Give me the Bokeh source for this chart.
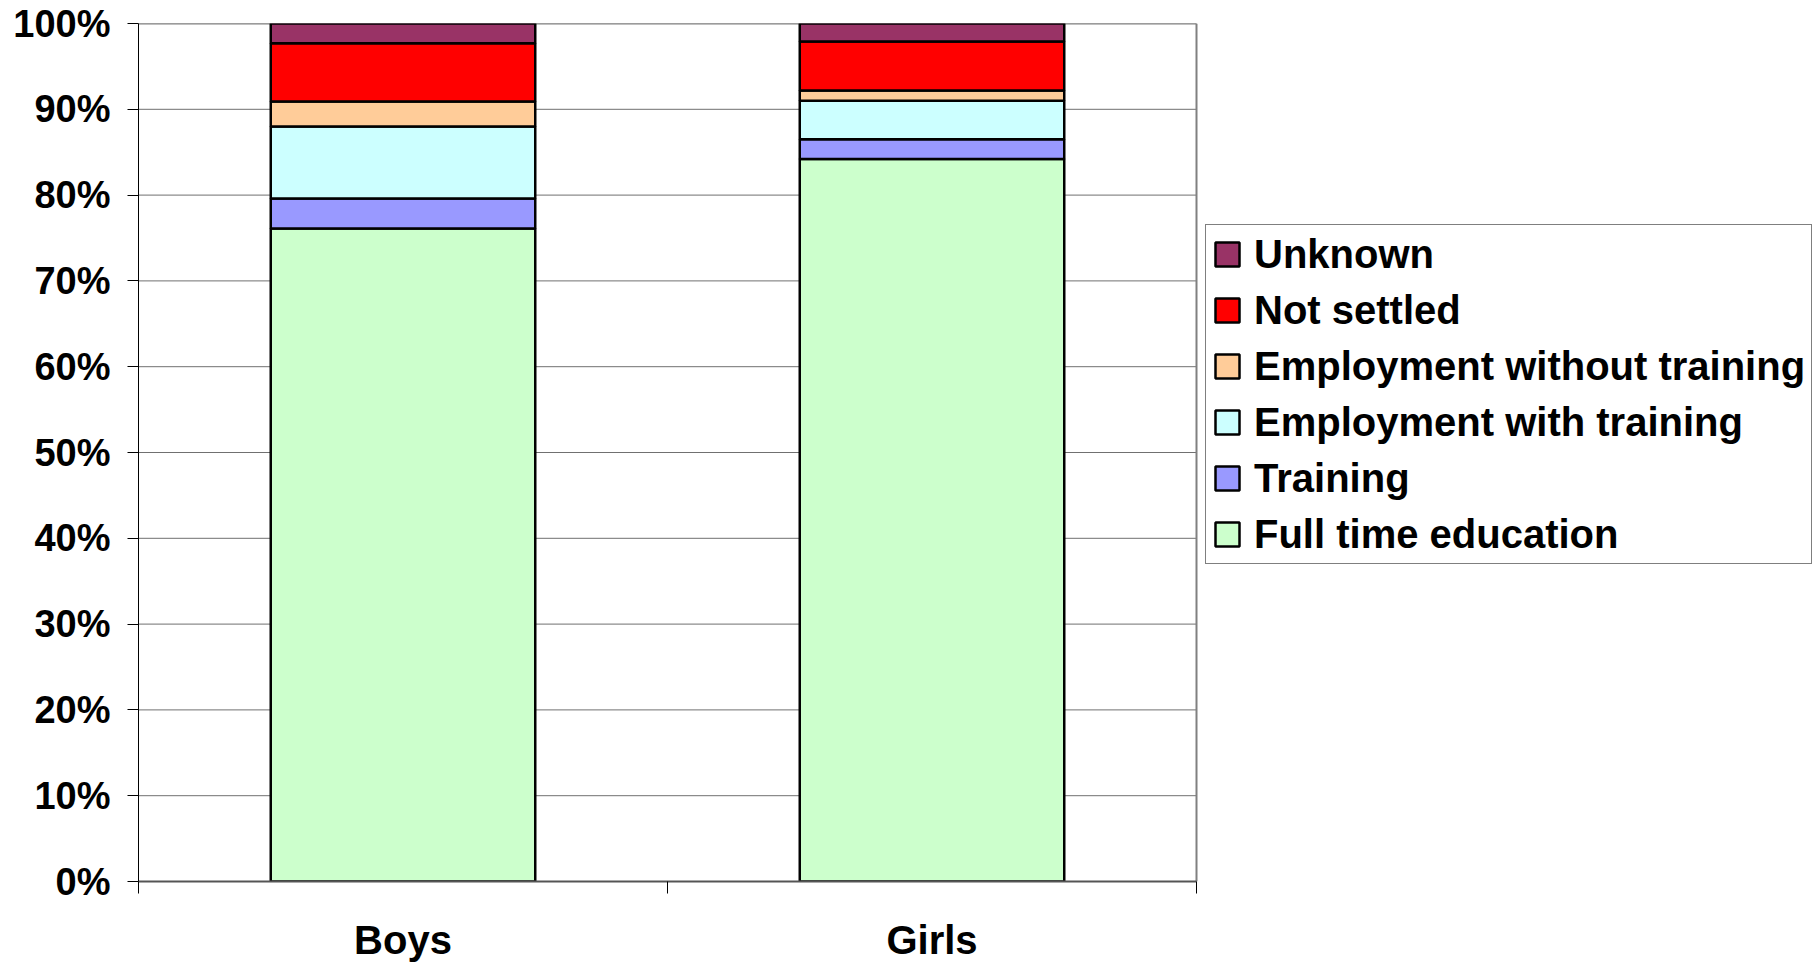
from bokeh.plotting import figure
from bokeh.models import ColumnDataSource, FixedTicker, Legend, LegendItem, Range1d, LinearAxis
from bokeh.embed import file_html
from bokeh.resources import INLINE

# ---- data ----
categories = ["Boys", "Girls"]
series_names = ["Full time education", "Training", "Employment with training",
                "Employment without training", "Not settled", "Unknown"]
full_time = [76.1, 84.2]
training = [3.5, 2.3]
emp_with = [8.4, 4.5]
emp_without = [2.9, 1.2]
not_settled = [6.8, 5.7]
unknown = [2.3, 2.1]
y_ticks = [0, 10, 20, 30, 40, 50, 60, 70, 80, 90, 100]
y_tick_labels = ["0%", "10%", "20%", "30%", "40%", "50%", "60%", "70%", "80%", "90%", "100%"]
colors = ["#CCFFCC", "#9999FF", "#CCFFFF", "#FFCC99", "#FF0000", "#993366"]

FONT = "Liberation Sans"

# layout (pixels)
W, H = 1812, 964
PLOT_LEFT, PLOT_RIGHT, PLOT_TOP, PLOT_BOTTOM = 138, 1196, 23, 881

n = len(categories)
xpos = [i + 0.5 for i in range(n)]
keys = ["s0", "s1", "s2", "s3", "s4", "s5"]
source = ColumnDataSource(data=dict(
    x=xpos,
    s0=full_time, s1=training, s2=emp_with, s3=emp_without, s4=not_settled, s5=unknown,
))

# the frame runs to the right edge so that the legend (drawn in the frame) is not clipped;
# the chart's own area (0..n) keeps its pixel width
x_end = n * (W - PLOT_LEFT) / (PLOT_RIGHT - PLOT_LEFT)
p = figure(width=W, height=H, output_backend="svg", toolbar_location=None,
           x_range=Range1d(0, x_end), y_range=Range1d(0, 100),
           x_axis_location=None, y_axis_location=None,
           min_border_left=PLOT_LEFT, min_border_right=0,
           min_border_top=PLOT_TOP, min_border_bottom=H - PLOT_BOTTOM)
p.background_fill_color = "white"
p.border_fill_color = "white"
p.outline_line_color = None
p.xgrid.visible = False
p.ygrid.visible = False

# horizontal gridlines over the chart area only
grid = p.segment(x0=[0] * len(y_ticks), x1=[n] * len(y_ticks), y0=y_ticks, y1=y_ticks,
                 line_color="#707070", line_width=1)
grid.level = "underlay"
top_border = p.segment(x0=[0], x1=[n], y0=[100], y1=[100], line_color="#808080", line_width=2)
top_border.level = "underlay"
right_border = p.segment(x0=[n], x1=[n], y0=[0], y1=[100], line_color="#808080", line_width=2)
right_border.level = "underlay"

renderers = p.vbar_stack(keys, x="x", width=0.5, source=source, fill_color=colors,
                         line_color="black", line_width=2.5)

# y axis
yaxis = LinearAxis(ticker=FixedTicker(ticks=y_ticks, minor_ticks=[]))
yaxis.major_label_overrides = {t: l for t, l in zip(y_ticks, y_tick_labels)}
yaxis.major_label_text_font = FONT
yaxis.major_label_text_font_style = "bold"
yaxis.major_label_text_font_size = "38px"
yaxis.major_label_text_color = "black"
yaxis.major_tick_out = 11
yaxis.major_tick_in = 0
yaxis.major_tick_line_color = "black"
yaxis.axis_line_color = "black"
yaxis.axis_line_width = 1
yaxis.major_label_standoff = 17
p.add_layout(yaxis, "left")

# x axis: labels at category centres, ticks at category boundaries
xaxis = LinearAxis(ticker=FixedTicker(ticks=xpos, minor_ticks=list(range(n + 1))), bounds=(0, n))
xaxis.major_label_overrides = {x: c for x, c in zip(xpos, categories)}
xaxis.major_label_text_font = FONT
xaxis.major_label_text_font_style = "bold"
xaxis.major_label_text_font_size = "40px"
xaxis.major_label_text_color = "black"
xaxis.major_tick_out = 0
xaxis.major_tick_in = 0
xaxis.minor_tick_out = 12
xaxis.minor_tick_in = 0
xaxis.minor_tick_line_color = "black"
xaxis.minor_tick_line_width = 1
xaxis.axis_line_color = "#555555"
xaxis.axis_line_width = 2
xaxis.major_label_standoff = 24
p.add_layout(xaxis, "below")

items = [LegendItem(label=name, renderers=[r]) for name, r in zip(series_names, renderers)]
items = items[::-1]
legend = Legend(items=items, location=(1205 - PLOT_LEFT, PLOT_BOTTOM - 226 - 338), orientation="vertical")
legend.label_text_font = FONT
legend.label_text_font_style = "bold"
legend.label_text_font_size = "40px"
legend.label_text_color = "black"
legend.glyph_width = 30
legend.glyph_height = 30
legend.label_height = 46
legend.label_standoff = 12
legend.spacing = 10
legend.padding = 6
legend.margin = 0
legend.border_line_color = "black"
legend.border_line_width = 1
legend.background_fill_color = "white"
legend.background_fill_alpha = 1
p.add_layout(legend, "center")

open("out.html", "w").write(file_html(p, INLINE))
